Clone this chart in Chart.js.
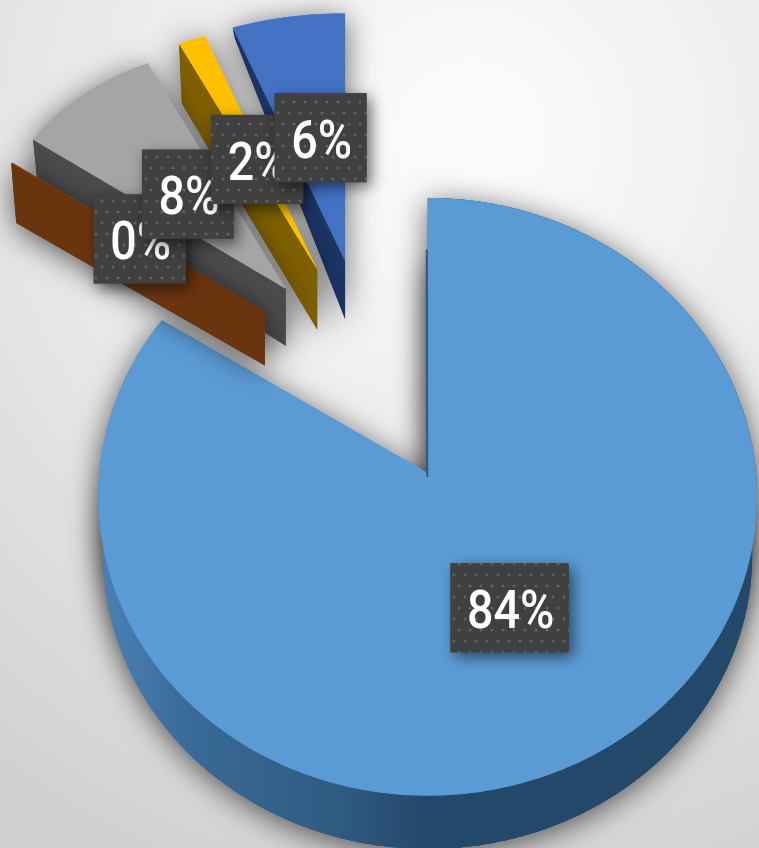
<!DOCTYPE html>
<html><head><meta charset="utf-8">
<style>html,body{margin:0;padding:0;background:#e6e6e6;overflow:hidden}canvas{display:block;filter:blur(.7px)}</style>
<script src="https://cdn.jsdelivr.net/npm/chart.js@4"></script>
</head><body>
<canvas id="c" width="759" height="848"></canvas>
<script>
// Data
const categories = ['Slice 1','Slice 2','Slice 3','Slice 4','Slice 5'];
const values = [84.0, 0.1, 8.3, 1.5, 6.1];
// Colours
const faceColors = ['#5b9bd5','#7a3a0e','#a5a5a5','#ffc000','#4472c4'];
const sideColors = ['#24486a','#6a340e','#4c4c4e','#7f6000','#1b3566'];
// 3D look (per slice): perspective, radius scale, extrusion at apex and at rim
const perspX  = [0.08, 0, 0, 0, 0];
const perspY  = [0.08, 0.28, 0.28, 0.28, 0.28];
const radX    = [1.071, 0.98, 0.98, 0.98, 0.98];
const radY    = [0.969, 1.034, 1.034, 1.034, 1.034];
const depthIn = [58, 54, 57, 60, 58];
const depthOut= [58, 56, 46, 55, 6];
const shrink  = [0.985, 0.98, 0.98, 0.98, 0.98];
const labelAt = [0.50, 0.455, 0.44, 0.423, 0.445];
const labelSpread = [1, 1.087, 1.10, 1.13, 0.96];
const drawOrder = [0, 4, 3, 2, 1];
const labelOrder = [0, 1, 2, 3, 4];
const explode = 123, tiltY = 0.927;

const total = values.reduce((a,b)=>a+b,0);
const labelTexts = values.map(v=>Math.round(v/total*100)+'%');

function geometry(el,i){
  const o = el.getProps(['x','y','startAngle','endAngle','outerRadius'],true);
  const mid = (o.startAngle+o.endAngle)/2, off = el.options.offset||0;
  const ax = o.x+Math.cos(mid)*off+0.5, ay = o.y+Math.sin(mid)*off*tiltY;
  const pt = (a,t)=>{
    const th=a+Math.PI/2, u=t*Math.sin(th), v=t*Math.cos(th);
    return {x:ax+o.outerRadius*radX[i]*u/(1+perspX[i]*v), y:ay-o.outerRadius*radY[i]*v/(1+perspY[i]*v), t};
  };
  const low = p=>({
    x:ax+(p.x-ax)*shrink[i],
    y:ay+(p.y-ay)*shrink[i]+depthIn[i]+(depthOut[i]-depthIn[i])*p.t
  });
  const rim=[], n=Math.max(2,Math.ceil((o.endAngle-o.startAngle)/0.01));
  for(let k=0;k<=n;k++) rim.push(pt(o.startAngle+(o.endAngle-o.startAngle)*k/n,1));
  return {ax,ay,pt,low,rim,mid,start:o.startAngle,end:o.endAngle};
}
function poly(ctx,pts,fill){
  ctx.beginPath(); pts.forEach((p,k)=>k?ctx.lineTo(p.x,p.y):ctx.moveTo(p.x,p.y));
  ctx.closePath(); ctx.fillStyle=fill; ctx.fill();
}
function dotPattern(ctx){
  const t=document.createElement('canvas'); t.width=22; t.height=22;
  const c=t.getContext('2d'); c.fillStyle='#404040'; c.fillRect(0,0,22,22);
  c.fillStyle='#626262';
  [[3,3],[14,3],[8,14],[19,14]].forEach(d=>{c.beginPath();c.arc(d[0],d[1],1.5,0,7);c.fill();});
  return ctx.createPattern(t,'repeat');
}
const pie3d = {
  id:'pie3d',
  beforeDraw(chart){
    const {ctx,width,height}=chart;
    const g=ctx.createRadialGradient(width*0.62,height*0.16,40,width*0.62,height*0.16,height*0.95);
    g.addColorStop(0,'#fbfbfb'); g.addColorStop(0.5,'#e8e8e8'); g.addColorStop(1,'#d0d0d0');
    ctx.fillStyle=g; ctx.fillRect(0,0,width,height);
  },
  beforeDatasetDraw(chart,args){
    const {ctx}=chart, arcs=chart.getDatasetMeta(args.index).data;
    drawOrder.forEach(i=>{
      const G=geometry(arcs[i],i), apex={x:G.ax,y:G.ay,t:0}, top=[apex,...G.rim];
      const bottom=top.map(G.low);
      const first=G.rim[0];
      const edge=[apex,first,G.low(first),G.low(apex)];
      let sideFill=sideColors[i];
      if(i===0){
        const g=ctx.createLinearGradient(G.ax-330,0,G.ax,0);
        g.addColorStop(0,'#4a82b6'); g.addColorStop(0.3,'#386996'); g.addColorStop(0.72,'#2f5b82'); g.addColorStop(1,sideColors[0]);
        sideFill=g;
      }
      ctx.save();
      ctx.shadowColor='rgba(0,0,0,.62)'; ctx.shadowBlur=30; ctx.shadowOffsetY=5;
      if(i===0) poly(ctx,bottom,sideFill);
      poly(ctx,edge,sideFill);
      poly(ctx,top,faceColors[i]);
      ctx.restore();
      if(i===0){
        const band=G.rim.concat(G.rim.map(G.low).reverse());
        poly(ctx,bottom,sideFill); poly(ctx,band,sideFill);
      }
      poly(ctx,edge,i===0?faceColors[i]:sideFill);
      poly(ctx,top,faceColors[i]);
      if(i===0){
        const a=G.pt(G.start,0.8);
        ctx.beginPath(); ctx.moveTo(a.x-1,a.y); ctx.lineTo(G.ax-0.5,G.ay+4);
        ctx.strokeStyle='#2c5a85'; ctx.lineWidth=2; ctx.stroke();
      }
    });
    return false;
  },
  afterDatasetsDraw(chart){
    const {ctx}=chart, arcs=chart.getDatasetMeta(0).data, pat=dotPattern(ctx);
    const squeeze=0.88;
    ctx.font='500 53px Roboto'; ctx.textAlign='center'; ctx.textBaseline='middle';
    labelOrder.forEach(i=>{
      const G=geometry(arcs[i],i), p=G.pt(G.mid,labelAt[i]);
      const c={x:G.ax+(p.x-G.ax)*labelSpread[i], y:p.y};
      const w=ctx.measureText(labelTexts[i]).width*squeeze+31, h=89;
      ctx.save();
      ctx.shadowColor='rgba(0,0,0,.55)'; ctx.shadowBlur=14; ctx.shadowOffsetX=4; ctx.shadowOffsetY=5;
      ctx.fillStyle='#404040'; ctx.fillRect(c.x-w/2,c.y-h/2,w,h);
      ctx.restore();
      ctx.fillStyle=pat; ctx.fillRect(c.x-w/2,c.y-h/2,w,h);
      ctx.save();
      ctx.translate(c.x+1,c.y+7); ctx.scale(squeeze,1);
      ctx.fillStyle='#ffffff'; ctx.fillText(labelTexts[i],0,0);
      ctx.restore();
    });
  }
};
new Chart(document.getElementById('c'),{
  type:'pie',
  data:{labels:categories,datasets:[{data:values,backgroundColor:faceColors,borderWidth:0,offset:explode}]},
  options:{responsive:false,animation:false,
    layout:{padding:{right:23,bottom:102}},
    plugins:{legend:{display:false},tooltip:{enabled:false}}},
  plugins:[pie3d]
});
</script>
</body></html>
